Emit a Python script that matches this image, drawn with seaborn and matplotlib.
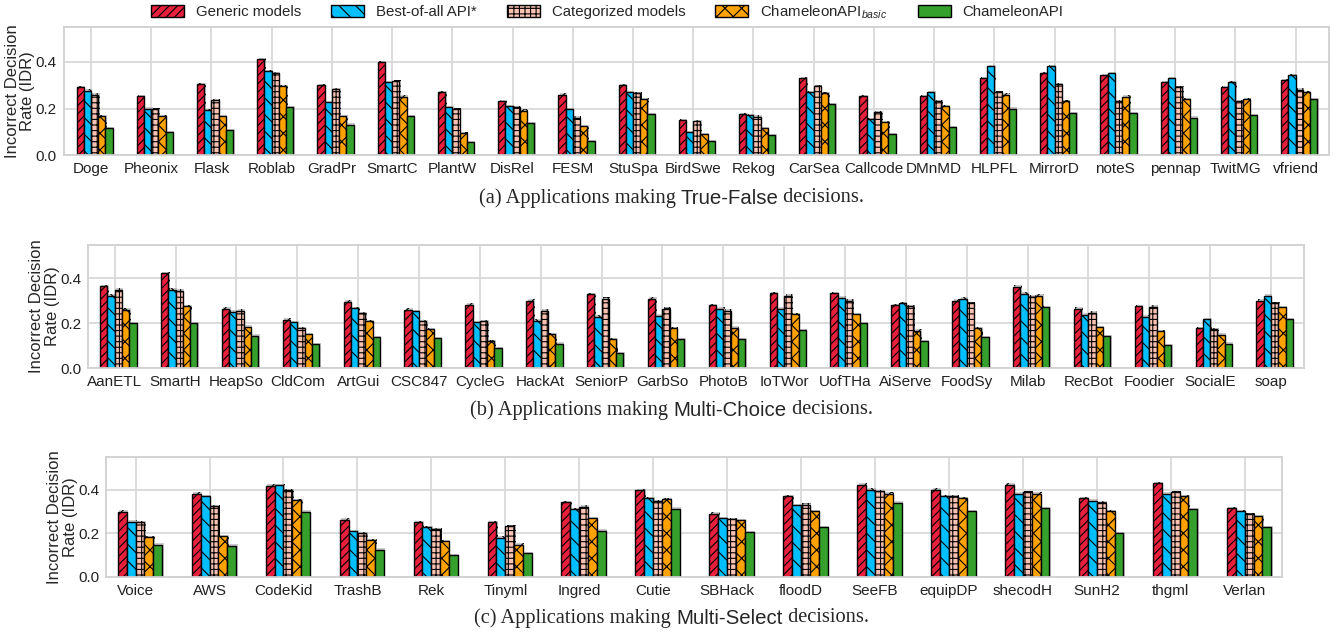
import pandas as pd
import matplotlib.pyplot as plt
import matplotlib.patches as mpatches
import matplotlib.patheffects as pe
import seaborn as sns

sns.set_style("whitegrid")
plt.rcParams["font.family"] = ["Liberation Sans", "DejaVu Sans"]
plt.rcParams["mathtext.fontset"] = "custom"
plt.rcParams["mathtext.rm"] = "Liberation Sans"
plt.rcParams["mathtext.it"] = "Liberation Sans:italic"
plt.rcParams["hatch.linewidth"] = 0.8

methods = ["Generic models", "Best-of-all API*", "Categorized models",
           "ChameleonAPI$_{basic}$", "ChameleonAPI"]
colors = ["#e8203c", "#00bfff", "#f9c2b2", "#ffa200", "#35a02c"]
hatches = ["////", "\\\\", "+++", "xx", ""]

# (a) True-False
tf_apps = ["Doge", "Pheonix", "Flask", "Roblab", "GradPr", "SmartC", "PlantW", "DisRel",
           "FESM", "StuSpa", "BirdSwe", "Rekog", "CarSea", "Callcode", "DMnMD", "HLPFL",
           "MirrorD", "noteS", "pennap", "TwitMG", "vfriend"]
tf_generic = [0.29, 0.252, 0.305, 0.41, 0.30, 0.397, 0.27, 0.231, 0.26, 0.30, 0.151,
              0.177, 0.33, 0.252, 0.252, 0.33, 0.35, 0.342, 0.312, 0.29, 0.32]
tf_best = [0.276, 0.20, 0.192, 0.36, 0.226, 0.312, 0.205, 0.209, 0.198, 0.27, 0.098,
           0.171, 0.269, 0.155, 0.27, 0.38, 0.38, 0.35, 0.33, 0.312, 0.342]
tf_cat = [0.26, 0.198, 0.236, 0.35, 0.282, 0.318, 0.198, 0.205, 0.161, 0.265, 0.145,
          0.165, 0.296, 0.185, 0.231, 0.27, 0.305, 0.231, 0.29, 0.231, 0.28]
tf_basic = [0.167, 0.167, 0.167, 0.295, 0.167, 0.251, 0.095, 0.19, 0.125, 0.24, 0.09,
            0.115, 0.265, 0.141, 0.209, 0.26, 0.231, 0.251, 0.24, 0.24, 0.269]
tf_cham = [0.117, 0.098, 0.107, 0.205, 0.131, 0.167, 0.056, 0.137, 0.06, 0.177, 0.06,
           0.085, 0.218, 0.09, 0.12, 0.20, 0.18, 0.18, 0.161, 0.171, 0.24]

# (b) Multi-Choice
mc_apps = ["AanETL", "SmartH", "HeapSo", "CldCom", "ArtGui", "CSC847", "CycleG", "HackAt",
           "SeniorP", "GarbSo", "PhotoB", "IoTWor", "UofTHa", "AiServe", "FoodSy", "Milab",
           "RecBot", "Foodier", "SocialE", "soap"]
mc_generic = [0.364, 0.422, 0.264, 0.216, 0.295, 0.26, 0.283, 0.30, 0.328, 0.31,
              0.279, 0.333, 0.333, 0.279, 0.301, 0.363, 0.264, 0.277, 0.178, 0.301]
mc_best = [0.322, 0.35, 0.252, 0.205, 0.268, 0.253, 0.205, 0.211, 0.229, 0.234,
           0.264, 0.264, 0.313, 0.29, 0.31, 0.331, 0.237, 0.228, 0.219, 0.322]
mc_cat = [0.35, 0.345, 0.256, 0.178, 0.244, 0.21, 0.21, 0.255, 0.31, 0.264,
          0.256, 0.322, 0.301, 0.277, 0.29, 0.318, 0.246, 0.274, 0.174, 0.288]
mc_basic = [0.26, 0.277, 0.184, 0.151, 0.21, 0.174, 0.12, 0.151, 0.129, 0.178,
            0.18, 0.241, 0.241, 0.166, 0.178, 0.322, 0.183, 0.165, 0.148, 0.27]
mc_cham = [0.20, 0.20, 0.144, 0.106, 0.138, 0.132, 0.088, 0.108, 0.066, 0.129,
           0.129, 0.168, 0.199, 0.12, 0.138, 0.27, 0.142, 0.102, 0.108, 0.219]

# (c) Multi-Select
ms_apps = ["Voice", "AWS", "CodeKid", "TrashB", "Rek", "Tinyml", "Ingred", "Cutie",
           "SBHack", "floodD", "SeeFB", "equipDP", "shecodH", "SunH2", "thgml", "Verlan"]
ms_generic = [0.30, 0.382, 0.42, 0.263, 0.252, 0.252, 0.343, 0.40,
              0.291, 0.372, 0.425, 0.402, 0.425, 0.363, 0.432, 0.315]
ms_best = [0.255, 0.371, 0.423, 0.211, 0.229, 0.18, 0.311, 0.362,
           0.269, 0.331, 0.402, 0.372, 0.382, 0.351, 0.382, 0.302]
ms_cat = [0.252, 0.326, 0.40, 0.20, 0.22, 0.234, 0.323, 0.348,
          0.265, 0.332, 0.395, 0.372, 0.391, 0.342, 0.391, 0.289]
ms_basic = [0.183, 0.188, 0.352, 0.168, 0.165, 0.149, 0.269, 0.358,
            0.262, 0.302, 0.382, 0.363, 0.382, 0.302, 0.372, 0.28]
ms_cham = [0.149, 0.143, 0.30, 0.126, 0.10, 0.108, 0.212, 0.314,
           0.206, 0.229, 0.342, 0.302, 0.315, 0.20, 0.311, 0.229]


def long_df(apps, series):
    rows = []
    for m, vals in zip(methods, series):
        for a, v in zip(apps, vals):
            rows.append({"app": a, "method": m, "idr": v})
    return pd.DataFrame(rows)


def draw(ax, apps, series, xlim):
    df = long_df(apps, series)
    sns.barplot(data=df, x="app", y="idr", hue="method", hue_order=methods,
                palette=colors, saturation=1, width=0.6, gap=0, errorbar=None,
                edgecolor="black", linewidth=1, legend=False, ax=ax)
    for cont, h in zip(ax.containers, hatches):
        for bar in cont:
            bar.set_hatch(h)
            bar.set_x(bar.get_x() + 0.06)
            bar.set_path_effects([pe.SimplePatchShadow(offset=(1.0, 1.0), shadow_rgbFace="0.6", alpha=0.5),
                                  pe.Normal()])
    ax.set_xlim(*xlim)
    ax.set_ylim(0, 0.55)
    ax.set_yticks([0.0, 0.2, 0.4])
    ax.set_yticklabels(["0.0", "0.2", "0.4"])
    ax.xaxis.grid(True)
    ax.grid(color="#d9d9d9", linewidth=1.3)
    for s in ax.spines.values():
        s.set_color("#d0d0d0")
        s.set_linewidth(1.3)
    ax.set_xlabel("")
    ax.set_ylabel("Incorrect Decision\nRate (IDR)", fontsize=12, labelpad=0, linespacing=1.05)
    ax.tick_params(axis="x", labelsize=11, pad=1.5, colors="#222222")
    ax.tick_params(axis="y", labelsize=11, pad=1.5, colors="#222222")


W, H = 1343, 632
fig = plt.figure(figsize=(W / 100, H / 100), dpi=100)

def axes_px(left, right, top, bottom):
    return fig.add_axes([left / W, 1 - bottom / H, (right - left) / W, (bottom - top) / H])

ax1 = axes_px(63.5, 1329, 26.7, 155.3)
ax2 = axes_px(88, 1304, 244.7, 368)
ax3 = axes_px(106, 1282, 457.3, 577)

draw(ax1, tf_apps, [tf_generic, tf_best, tf_cat, tf_basic, tf_cham], (-0.457, len(tf_apps) - 0.444))
draw(ax2, mc_apps, [mc_generic, mc_best, mc_cat, mc_basic, mc_cham], (-0.439, len(mc_apps) - 0.458))
draw(ax3, ms_apps, [ms_generic, ms_best, ms_cat, ms_basic, ms_cham], (-0.40, len(ms_apps) - 0.495))

handles = [mpatches.Patch(facecolor=c, hatch=h, edgecolor="black", linewidth=1, label=m)
           for m, c, h in zip(methods, colors, hatches)]
fig.legend(handles=handles, loc="center left", bbox_to_anchor=(140 / W, 1 - 12 / H),
           ncol=5, frameon=False, fontsize=10.8, handlelength=2.2, handleheight=0.85,
           handletextpad=0.8, columnspacing=2.0, borderpad=0.2)

renderer = fig.canvas.get_renderer()


def caption(y, parts):
    texts = [fig.text(0, 1 - y / H, s, fontfamily=f, fontsize=14.7, va="center") for s, f in parts]
    widths = [t.get_window_extent(renderer).width for t in texts]
    x = W / 2 - sum(widths) / 2
    for t, w in zip(texts, widths):
        t.set_x(x / W)
        x += w


serif = ["Liberation Serif", "DejaVu Serif"]
sans = ["Liberation Sans", "DejaVu Sans"]
caption(198, [("(a) Applications making ", serif), ("True-False", sans), (" decisions.", serif)])
caption(410, [("(b) Applications making ", serif), ("Multi-Choice", sans), (" decisions.", serif)])
caption(618, [("(c) Applications making ", serif), ("Multi-Select", sans), (" decisions.", serif)])

fig.savefig("out.png", dpi=100)
